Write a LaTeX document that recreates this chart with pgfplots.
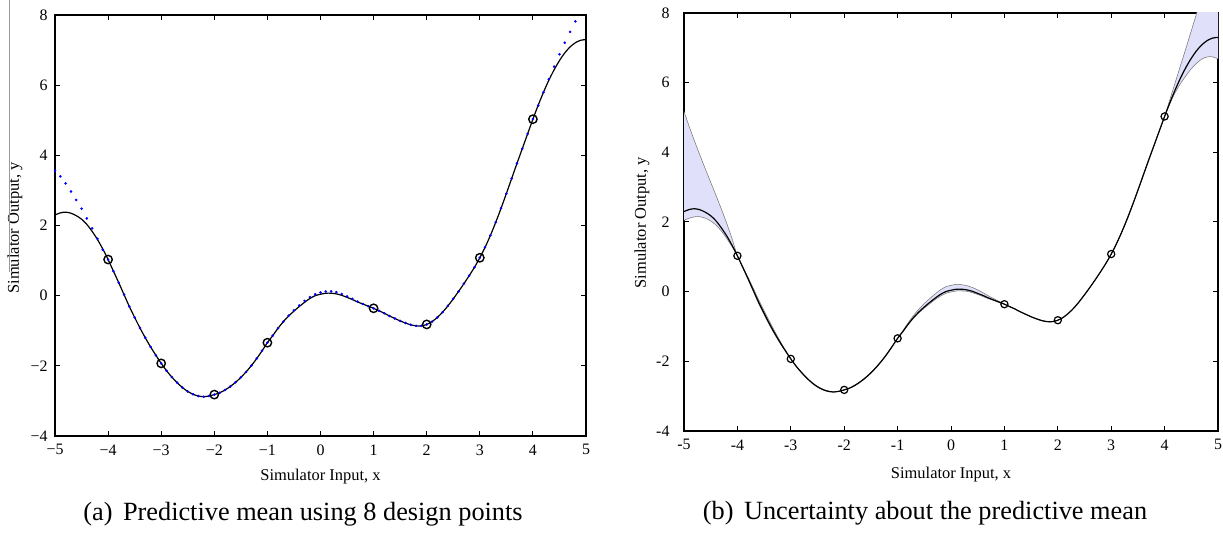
\documentclass[border=0pt]{standalone}
\usepackage{fontspec}
\setmainfont{Liberation Serif}
\usepackage{pgfplots}
\pgfplotsset{compat=1.18}
\usepackage{pgfplotstable}

\definecolor{band}{RGB}{224,224,250}
\definecolor{bandedge}{RGB}{120,120,120}

% Simulator output (truth), emulator mean and the band about the mean
\pgfplotstableread{
x     truth  mean   lo     up
-5.0  3.56   2.30   2.05   5.17
-4.9  3.40   2.36   2.11   4.73
-4.8  3.20   2.38   2.15   4.31
-4.7  2.97   2.35   2.15   3.91
-4.6  2.73   2.28   2.11   3.52
-4.5  2.48   2.18   2.03   3.14
-4.4  2.20   2.03   1.91   2.76
-4.3  1.92   1.83   1.74   2.37
-4.2  1.62   1.60   1.53   1.96
-4.1  1.31   1.33   1.29   1.52
-4.0  1.03   1.03   1.03   1.03
-3.9  0.70   0.70   0.69   0.72
-3.8  0.37   0.37   0.35   0.41
-3.7  0.03   0.03   0.00   0.09
-3.6  -0.31  -0.31  -0.35  -0.24
-3.5  -0.62  -0.62  -0.66  -0.55
-3.4  -0.92  -0.92  -0.96  -0.85
-3.3  -1.20  -1.20  -1.23  -1.14
-3.2  -1.46  -1.46  -1.48  -1.42
-3.1  -1.70  -1.70  -1.71  -1.68
-3.0  -1.93  -1.93  -1.93  -1.93
-2.9  -2.14  -2.14  -2.14  -2.13
-2.8  -2.32  -2.32  -2.33  -2.31
-2.7  -2.48  -2.48  -2.49  -2.47
-2.6  -2.62  -2.62  -2.63  -2.61
-2.5  -2.73  -2.73  -2.74  -2.72
-2.4  -2.81  -2.81  -2.82  -2.80
-2.3  -2.86  -2.86  -2.87  -2.85
-2.2  -2.88  -2.88  -2.88  -2.87
-2.1  -2.86  -2.86  -2.86  -2.86
-2.0  -2.82  -2.82  -2.82  -2.82
-1.9  -2.77  -2.77  -2.77  -2.76
-1.8  -2.69  -2.69  -2.70  -2.68
-1.7  -2.59  -2.59  -2.60  -2.58
-1.6  -2.47  -2.47  -2.48  -2.46
-1.5  -2.33  -2.33  -2.34  -2.32
-1.4  -2.17  -2.17  -2.18  -2.16
-1.3  -1.99  -1.99  -2.00  -1.98
-1.2  -1.79  -1.79  -1.80  -1.78
-1.1  -1.57  -1.57  -1.57  -1.56
-1.0  -1.34  -1.34  -1.34  -1.34
-0.9  -1.14  -1.14  -1.15  -1.12
-0.8  -0.93  -0.93  -0.94  -0.89
-0.7  -0.74  -0.74  -0.76  -0.68
-0.6  -0.57  -0.58  -0.61  -0.50
-0.5  -0.42  -0.44  -0.47  -0.34
-0.4  -0.28  -0.31  -0.35  -0.20
-0.3  -0.15  -0.19  -0.23  -0.07
-0.2  -0.04  -0.08  -0.13  0.05
-0.1  0.04   0.00   -0.05  0.14
0.0   0.09   0.04   -0.01  0.18
0.1   0.12   0.07   0.02   0.21
0.2   0.12   0.07   0.02   0.20
0.3   0.10   0.05   0.01   0.17
0.4   0.05   0.01   -0.03  0.12
0.5   -0.02  -0.05  -0.08  0.05
0.6   -0.09  -0.11  -0.14  -0.03
0.7   -0.17  -0.18  -0.20  -0.12
0.8   -0.24  -0.24  -0.25  -0.20
0.9   -0.30  -0.30  -0.31  -0.28
1.0   -0.36  -0.36  -0.36  -0.36
1.1   -0.43  -0.43  -0.43  -0.43
1.2   -0.50  -0.50  -0.50  -0.50
1.3   -0.58  -0.58  -0.58  -0.58
1.4   -0.65  -0.65  -0.65  -0.65
1.5   -0.72  -0.72  -0.72  -0.72
1.6   -0.78  -0.78  -0.78  -0.78
1.7   -0.83  -0.83  -0.83  -0.83
1.8   -0.86  -0.86  -0.86  -0.86
1.9   -0.86  -0.86  -0.86  -0.86
2.0   -0.82  -0.82  -0.82  -0.82
2.1   -0.74  -0.74  -0.74  -0.74
2.2   -0.62  -0.62  -0.62  -0.62
2.3   -0.47  -0.47  -0.47  -0.47
2.4   -0.29  -0.29  -0.29  -0.29
2.5   -0.09  -0.09  -0.09  -0.09
2.6   0.12   0.12   0.12   0.12
2.7   0.34   0.34   0.34   0.34
2.8   0.57   0.57   0.57   0.57
2.9   0.81   0.81   0.81   0.81
3.0   1.08   1.08   1.08   1.08
3.1   1.38   1.38   1.38   1.39
3.2   1.72   1.72   1.71   1.73
3.3   2.09   2.09   2.08   2.11
3.4   2.49   2.49   2.48   2.51
3.5   2.91   2.91   2.90   2.93
3.6   3.34   3.34   3.33   3.36
3.7   3.77   3.77   3.76   3.79
3.8   4.19   4.19   4.18   4.20
3.9   4.61   4.61   4.61   4.62
4.0   5.03   5.03   5.03   5.03
4.1   5.42   5.43   5.40   5.52
4.2   5.80   5.80   5.72   6.01
4.3   6.17   6.14   5.98   6.50
4.4   6.53   6.44   6.20   6.99
4.5   6.88   6.70   6.40   7.49
4.6   7.21   6.92   6.56   7.99
4.7   7.52   7.09   6.68   8.49
4.8   7.82   7.21   6.74   8.99
4.9   8.11   7.28   6.74   9.49
5.0   8.40   7.30   6.68   9.99
}\gp

\pgfplotsset{
  gpaxis/.style={
    scale only axis,
    anchor=south west,
    xmin=-5, xmax=5, ymin=-4, ymax=8,
    xtick={-5,-4,-3,-2,-1,0,1,2,3,4,5},
    ytick={-4,-2,0,2,4,6,8},
    axis line style={line width=1.1bp},
    major tick length=5bp,
    every tick/.style={black, line width=1bp},
    tick label style={font=\fontsize{16}{18}\selectfont},
    xticklabel style={yshift=-5bp},
    yticklabel style={xshift=-4bp},
    label style={font=\fontsize{16.5}{19}\selectfont},
    xlabel={Simulator Input, x},
    ylabel={Simulator Output, y},
  },
  % closed outline of the band: upper edge forwards, lower edge back
  bandfill/.style={fill=band, draw=none},
}

\begin{document}
\begin{tikzpicture}
\path[use as bounding box] (0,0) rectangle (1223bp,543bp);

% (a) emulator mean against the simulator
\begin{axis}[gpaxis,
  at={(55bp,107bp)}, width=531bp, height=421bp,
  xticklabels={−5,−4,−3,−2,−1,0,1,2,3,4,5},
  yticklabels={−4,−2,0,2,4,6,8},
  xlabel style={at={(axis description cs:0.5,-0.0974)}, anchor=center},
  ylabel style={at={(axis description cs:-0.0753,0.494)}, anchor=center},
]
\addplot[only marks, mark=*, mark size=1.1bp, blue, restrict y to domain=-4:8]
  table[x=x, y=truth] {\gp};
\addplot[black, line width=1.2bp, smooth] table[x=x, y=mean] {\gp};
\addplot[only marks, mark=o, mark size=4.2bp, line width=1.4bp, black] coordinates {
  (-4,1.03) (-3,-1.93) (-2,-2.82) (-1,-1.34) (1,-0.36) (2,-0.82) (3,1.08) (4,5.03)};
\end{axis}

% (b) emulator mean with its uncertainty band
\begin{axis}[gpaxis,
  at={(684bp,112bp)}, width=534bp, height=418bp,
  xticklabels={-5,-4,-3,-2,-1,0,1,2,3,4,5},
  yticklabels={-4,-2,0,2,4,6,8},
  yticklabel style={xshift=-7bp},
  xlabel style={at={(axis description cs:0.5,-0.103)}, anchor=center},
  ylabel style={at={(axis description cs:-0.0787,0.498)}, anchor=center},
]
\addplot[bandfill] coordinates {
  (-5,5.17) (-4.9,4.73) (-4.8,4.31) (-4.7,3.91) (-4.6,3.52) (-4.5,3.14)
  (-4.4,2.76) (-4.3,2.37) (-4.2,1.96) (-4.1,1.52) (-4.0,1.03)
  (-4.1,1.29) (-4.2,1.53) (-4.3,1.74) (-4.4,1.91) (-4.5,2.03) (-4.6,2.11)
  (-4.7,2.15) (-4.8,2.15) (-4.9,2.11) (-5.0,2.05)} -- cycle;
\addplot[bandfill] coordinates {
  (-4,1.03) (-3.9,0.72) (-3.8,0.41) (-3.7,0.09) (-3.6,-0.24) (-3.5,-0.55)
  (-3.4,-0.85) (-3.3,-1.14) (-3.2,-1.42) (-3.1,-1.68) (-3,-1.93)
  (-3.1,-1.71) (-3.2,-1.48) (-3.3,-1.23) (-3.4,-0.96) (-3.5,-0.66)
  (-3.6,-0.35) (-3.7,0.00) (-3.8,0.35) (-3.9,0.69)} -- cycle;
\addplot[bandfill] coordinates {
  (-1,-1.34) (-0.9,-1.12) (-0.8,-0.89) (-0.7,-0.68) (-0.6,-0.50) (-0.5,-0.34)
  (-0.4,-0.20) (-0.3,-0.07) (-0.2,0.05) (-0.1,0.14) (0,0.18) (0.1,0.21)
  (0.2,0.20) (0.3,0.17) (0.4,0.12) (0.5,0.05) (0.6,-0.03) (0.7,-0.12)
  (0.8,-0.20) (0.9,-0.28) (1,-0.36)
  (0.9,-0.31) (0.8,-0.25) (0.7,-0.20) (0.6,-0.14) (0.5,-0.08) (0.4,-0.03)
  (0.3,0.01) (0.2,0.02) (0.1,0.02) (0,-0.01) (-0.1,-0.05) (-0.2,-0.13)
  (-0.3,-0.23) (-0.4,-0.35) (-0.5,-0.47) (-0.6,-0.61) (-0.7,-0.76)
  (-0.8,-0.94) (-0.9,-1.15)} -- cycle;
\addplot[bandfill] coordinates {
  (4,5.03) (4.1,5.52) (4.2,6.01) (4.3,6.50) (4.4,6.99) (4.5,7.49) (4.6,7.99)
  (4.7,8.49) (4.8,8.99) (4.9,9.49) (5,9.99)
  (5,6.68) (4.9,6.74) (4.8,6.74) (4.7,6.68) (4.6,6.56) (4.5,6.40) (4.4,6.20)
  (4.3,5.98) (4.2,5.72) (4.1,5.40)} -- cycle;
\addplot[bandedge, line width=0.55bp, smooth] table[x=x, y=up] {\gp};
\addplot[bandedge, line width=0.55bp, smooth] table[x=x, y=lo] {\gp};
\addplot[black, line width=1.2bp, smooth] table[x=x, y=mean] {\gp};
\addplot[only marks, mark=o, mark size=3.6bp, line width=1.2bp, black] coordinates {
  (-4,1.03) (-3,-1.93) (-2,-2.82) (-1,-1.34) (1,-0.36) (2,-0.82) (3,1.08) (4,5.03)};
\end{axis}

\draw[gray!80, line width=0.6bp] (9bp,543bp) -- (9bp,271bp);

\node[font=\fontsize{26.4}{29}\selectfont] at (303bp,29bp)
  {(a)\hspace{0.4em}Predictive mean using 8 design points};
\node[font=\fontsize{26.4}{29}\selectfont] at (925bp,30bp)
  {(b)\hspace{0.4em}Uncertainty about the predictive mean};
\end{tikzpicture}
\end{document}
